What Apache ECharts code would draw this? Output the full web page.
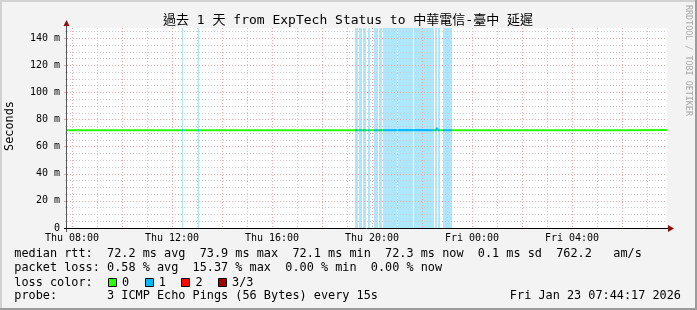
<!DOCTYPE html>
<html><head><meta charset="utf-8">
<script src="https://cdn.jsdelivr.net/npm/echarts@6/dist/echarts.min.js"></script>
<style>html,body{margin:0;padding:0;background:#f3f3f3;}#c{width:697px;height:310px;}</style>
</head><body><div id="c"></div>
<script>
// ---------- data ----------
const titleText = '過去 1 天 from ExpTech Status to 中華電信-臺中 延遲';
const yAxisTitle = 'Seconds';
const watermark = 'RRDTOOL / TOBI OETIKER';
const rangeStart = 'Thu 07:48';
const rangeEnd = 'Fri 07:48';
const yMax = 147.6;

const xMinorTicks = ['Thu 09:00','Thu 11:00','Thu 13:00','Thu 15:00','Thu 17:00','Thu 19:00','Thu 21:00','Thu 23:00','Fri 01:00','Fri 03:00','Fri 05:00','Fri 07:00'];
const xMajorTicks = ['Thu 08:00','Thu 10:00','Thu 12:00','Thu 14:00','Thu 16:00','Thu 18:00','Thu 20:00','Thu 22:00','Fri 00:00','Fri 02:00','Fri 04:00','Fri 06:00'];
const xLabelTicks = ['Thu 08:00','Thu 12:00','Thu 16:00','Thu 20:00','Fri 00:00','Fri 04:00'];
const yMinorTicks = [5,10,15,25,30,35,45,50,55,65,70,75,85,90,95,105,110,115,125,130,135,145];
const yMajorTicks = [0,20,40,60,80,100,120,140];

// periods with 1/3 packet loss
const lossIntervals = [
  ['Thu 12:24','Thu 12:27'],
  ['Thu 13:02','Thu 13:05'],
  ['Thu 19:19','Thu 19:26'],
  ['Thu 19:29','Thu 19:36'],
  ['Thu 19:38','Thu 19:46'],
  ['Thu 19:50','Thu 19:55'],
  ['Thu 20:05','Thu 20:14'],
  ['Thu 20:17','Thu 20:24'],
  ['Thu 20:26','Thu 21:00'],
  ['Thu 21:02','Thu 21:38'],
  ['Thu 21:41','Thu 22:29'],
  ['Thu 22:31','Thu 22:36'],
  ['Thu 22:38','Thu 22:43'],
  ['Thu 22:50','Thu 23:12']
];

const medianTimes = ['Thu 07:48','Thu 10:00','Thu 12:00','Thu 14:00','Thu 16:00','Thu 18:00','Thu 20:00','Thu 22:00','Thu 22:34','Thu 22:36','Thu 22:38','Fri 00:00','Fri 02:00','Fri 04:00','Fri 06:00','Fri 07:48'];
const medianRtt   = [72.2, 72.2, 72.2, 72.1, 72.2, 72.2, 72.2, 72.3, 72.2, 73.9, 72.2, 72.2, 72.2, 72.1, 72.2, 72.3];

const legendLines = [
  'median rtt:  72.2 ms avg  73.9 ms max  72.1 ms min  72.3 ms now  0.1 ms sd  762.2   am/s',
  'packet loss: 0.58 % avg  15.37 % max  0.00 % min  0.00 % now',
  'loss color:',
  'probe:       3 ICMP Echo Pings (56 Bytes) every 15s'
];
const dateText = 'Fri Jan 23 07:44:17 2026';
const lossLabels = ['0','1','2','3/3'];
const lossColors = ['#26ff00','#00b8ff','#ff0000','#a00000'];

// ---------- helpers ----------
const DAYS = {Thu: 22, Fri: 23};
const DAYNAME = {22: 'Thu', 23: 'Fri'};
function T(s){ const [d, hm] = s.split(' '); const [h, m] = hm.split(':'); return Date.UTC(2026, 0, DAYS[d], +h, +m); }
function pad(n){ return (n < 10 ? '0' : '') + n; }
function fmtX(v){ const d = new Date(v); return DAYNAME[d.getUTCDate()] + ' ' + pad(d.getUTCHours()) + ':' + pad(d.getUTCMinutes()); }

const X0 = T(rangeStart), X1 = T(rangeEnd);
const GREY = '#cacaca', RED = '#f5a3a3';
const MONO = '"DejaVu Sans Mono", "Noto Sans CJK TC", monospace';
const LFONT = '11.85px ' + MONO;

function xAxisBase(){ return {type:'value', min:X0, max:X1, position:'bottom', z:3,
  axisLine:{show:false}, axisLabel:{show:false}}; }
function yAxisBase(){ return {type:'value', min:0, max:yMax, position:'left', z:3,
  axisLine:{show:false}, axisLabel:{show:false}}; }

const chart = echarts.init(document.getElementById('c'), null, {renderer:'canvas'});

const graphics = [];
// frame
graphics.push({type:'rect', shape:{x:0,y:0,width:697,height:2}, style:{fill:'#d2d2d2'}, silent:true});
graphics.push({type:'rect', shape:{x:0,y:0,width:2,height:310}, style:{fill:'#d2d2d2'}, silent:true});
graphics.push({type:'rect', shape:{x:695,y:0,width:2,height:310}, style:{fill:'#9c9c9c'}, silent:true});
graphics.push({type:'rect', shape:{x:0,y:308,width:697,height:2}, style:{fill:'#9c9c9c'}, silent:true});
// title
graphics.push({type:'text', x:348, y:21, style:{text:titleText, font:'13px ' + MONO, fill:'#000', align:'center', verticalAlign:'middle'}, silent:true});
// y-axis title
graphics.push({type:'text', x:10, y:126, rotation:Math.PI/2, style:{text:yAxisTitle, font:LFONT, fill:'#000', align:'center', verticalAlign:'middle'}, silent:true});
// watermark
graphics.push({type:'text', x:688.5, y:5, rotation:-Math.PI/2, style:{text:watermark, font:'8.4px ' + MONO, fill:'#a8a8a8', align:'left', verticalAlign:'middle'}, silent:true});
// axis arrows / extensions
graphics.push({type:'line', shape:{x1:66.5,y1:232,x2:66.5,y2:22}, style:{stroke:'#555', lineWidth:1}, silent:true, z:10});
graphics.push({type:'polygon', shape:{points:[[63.5,26],[66.5,20],[69.5,26]]}, style:{fill:'#8b1010'}, silent:true, z:10});
graphics.push({type:'line', shape:{x1:64,y1:228.5,x2:669,y2:228.5}, style:{stroke:'#000', lineWidth:1}, silent:true, z:10});
graphics.push({type:'polygon', shape:{points:[[668,225],[674,228.5],[668,232]]}, style:{fill:'#8b1010'}, silent:true, z:10});
// legend text
const rowY = [254, 268.3, 282.5, 296.3];
legendLines.forEach((t, i) => {
  graphics.push({type:'text', x:14.3, y:rowY[i], style:{text:t, font:LFONT, fill:'#000', align:'left', verticalAlign:'middle'}, silent:true});
});
graphics.push({type:'text', x:681, y:rowY[3], style:{text:dateText, font:LFONT, fill:'#000', align:'right', verticalAlign:'middle'}, silent:true});
lossLabels.forEach((lab, i) => {
  const bx = 108 + i * 36.7;
  graphics.push({type:'rect', shape:{x:Math.round(bx)+0.5, y:278.5, width:8, height:8}, style:{fill:lossColors[i], stroke:'#000', lineWidth:1}, silent:true});
  graphics.push({type:'text', x:bx + 14, y:rowY[2], style:{text:lab, font:LFONT, fill:'#000', align:'left', verticalAlign:'middle'}, silent:true});
});

const option = {
  animation:false,
  backgroundColor:'#f3f3f3',
  grid:{left:67, right:30, top:28, bottom:82, show:true, backgroundColor:'#ffffff', borderWidth:0, containLabel:false},
  xAxis:[
    Object.assign(xAxisBase(), {
      axisTick:{show:true, customValues:xMinorTicks.map(T), length:3, lineStyle:{color:GREY, type:[1,2]}},
      splitLine:{show:true, lineStyle:{color:GREY, type:[1,2], width:1}}
    }),
    Object.assign(xAxisBase(), {
      axisTick:{show:true, customValues:xMajorTicks.map(T), length:3, lineStyle:{color:RED, type:[1,2]}},
      splitLine:{show:true, lineStyle:{color:RED, type:[1,2], width:1}}
    }),
    Object.assign(xAxisBase(), {
      axisTick:{show:false, customValues:xLabelTicks.map(T)},
      axisLabel:{show:true, customValues:xLabelTicks.map(T), formatter:fmtX, margin:5, color:'#000', fontSize:10, fontFamily:MONO},
      splitLine:{show:false}
    })
  ],
  yAxis:[
    Object.assign(yAxisBase(), {
      axisTick:{show:true, customValues:yMinorTicks, length:2, lineStyle:{color:GREY}},
      splitLine:{show:true, lineStyle:{color:GREY, type:[1,2], width:1}}
    }),
    Object.assign(yAxisBase(), {
      axisTick:{show:true, customValues:yMajorTicks, length:3, lineStyle:{color:RED}},
      axisLabel:{show:true, customValues:yMajorTicks, formatter:v => v === 0 ? '0' : v + ' m', margin:7, color:'#000', fontSize:10, fontFamily:MONO},
      splitLine:{show:true, lineStyle:{color:RED, type:[1,2], width:1}}
    })
  ],
  visualMap:{
    type:'piecewise', show:false, dimension:0, seriesIndex:1,
    pieces: lossIntervals.map(([a, b]) => ({gte:T(a), lt:T(b), color:lossColors[1]})),
    outOfRange:{color:lossColors[0]}
  },
  series:[
    {
      type:'custom', xAxisIndex:2, yAxisIndex:1, z:1, silent:true,
      data: lossIntervals.map(([a, b]) => [T(a), T(b)]),
      encode:{x:[0,1]},
      renderItem(params, api){
        const p0 = api.coord([api.value(0), yMax]);
        const p1 = api.coord([api.value(1), 0]);
        const x0 = Math.round(p0[0]);
        const x1 = Math.max(Math.round(p1[0]), x0 + 1);
        return {type:'rect', shape:{x:x0, y:p0[1], width:x1 - x0, height:p1[1] - p0[1]}, style:{fill:'#aee6fb'}};
      }
    },
    {
      type:'line', xAxisIndex:2, yAxisIndex:1, z:5, silent:true,
      showSymbol:false, symbol:'none',
      data: medianTimes.map((t, i) => [T(t), medianRtt[i]]),
      lineStyle:{width:2}
    }
  ],
  graphic: graphics
};
chart.setOption(option);
</script>
</body></html>
